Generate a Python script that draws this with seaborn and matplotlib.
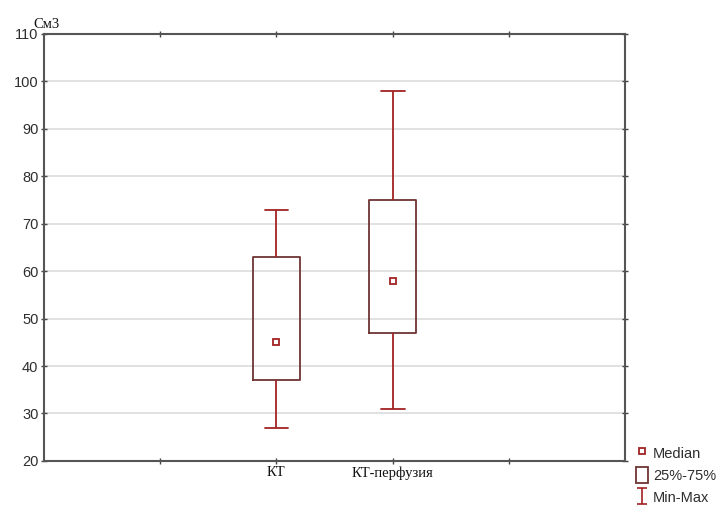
import numpy as np
import pandas as pd
import matplotlib
matplotlib.use("Agg")
import matplotlib.pyplot as plt
from matplotlib.lines import Line2D
from matplotlib.patches import Patch
from matplotlib.path import Path
import seaborn as sns

# summary values (cm3)
groups = ["КТ", "КТ-перфузия"]
mins = [27, 31]
q1 = [37, 47]
medians = [45, 58]
q3 = [63, 75]
maxs = [73, 98]

# empty slots left and right of the two groups, as on the original axis
order = [""] + groups + [" "]
yticks = [20, 30, 40, 50, 60, 70, 80, 90, 100, 110]

# five points per group reproduce min / quartiles / median / max exactly
rows = []
for g, a, b, c, d, e in zip(groups, mins, q1, medians, q3, maxs):
    for v in (a, b, c, d, e):
        rows.append({"group": g, "value": v})
df = pd.DataFrame(rows)

WHISK = "#a32323"
BOXC = "#6e3434"
TXT = "#2e2e2e"

sns.set_style("white")
fig = plt.figure(figsize=(7.17, 5.15), dpi=100)
ax = fig.add_axes([0.0614, 0.105, 0.8103, 0.829])

sns.boxplot(data=df, x="group", y="value", order=order, ax=ax,
            width=0.41, whis=np.inf, fill=False, linewidth=1.3,
            color=WHISK, showfliers=False,
            boxprops=dict(color=BOXC),
            whiskerprops=dict(color=WHISK),
            capprops=dict(color=WHISK),
            medianprops=dict(visible=False))

sns.pointplot(data=df, x="group", y="value", order=order, ax=ax,
              estimator="median", errorbar=None, linestyle="none",
              marker="s", color=WHISK, markersize=3.8,
              markerfacecolor="white", markeredgewidth=1.3)

ax.set_xlim(-1, len(order))
ax.set_ylim(yticks[0], yticks[-1])
ax.set_yticks(yticks)
ax.set_xlabel("")
ax.set_ylabel("")
ax.yaxis.grid(True, color="#dcdcdc", linewidth=1.2)
ax.set_axisbelow(True)

for s in ax.spines.values():
    s.set_visible(True)
    s.set_color("#555555")
    s.set_linewidth(1.5)

ax.tick_params(axis="both", which="both", direction="inout", length=4,
               width=1, color="#444444", top=True, right=True,
               bottom=True, left=True)
ax.tick_params(axis="y", labelsize=10.5, labelcolor=TXT, pad=2)
ax.tick_params(axis="x", labelsize=10.5, labelcolor="#111111", pad=2)
for lab in ax.get_yticklabels():
    lab.set_family("Liberation Sans")
for lab in ax.get_xticklabels():
    lab.set_family("Liberation Serif")

fig.text(0.046, 0.94, "См3", family="Liberation Serif", fontsize=10.5,
         color="#111111", ha="left", va="bottom")

# Statistica-like legend outside the plot
ibeam = Path([(-0.6, -1), (0.6, -1), (0, -1), (0, 1), (-0.6, 1), (0.6, 1)],
             [Path.MOVETO, Path.LINETO, Path.MOVETO, Path.LINETO,
              Path.MOVETO, Path.LINETO])
handles = [
    Line2D([], [], linestyle="none", marker="s", markersize=3.8,
           markerfacecolor="white", markeredgecolor=WHISK, markeredgewidth=1.3),
    Patch(facecolor="white", edgecolor=BOXC, linewidth=1.3),
    Line2D([], [], linestyle="none", marker=ibeam, markersize=12,
           markeredgecolor=WHISK, markeredgewidth=1.2),
]
labels = ["Median", "25%-75%", "Min-Max"]
fig.legend(handles, labels, loc="upper left", bbox_to_anchor=(0.877, 0.15),
           frameon=False, handlelength=0.85, handleheight=1.25,
           handletextpad=0.3, labelspacing=0.45, borderpad=0,
           prop={"family": "Liberation Sans", "size": 10.5},
           labelcolor=TXT)

fig.savefig("out.png", dpi=100, facecolor="white")
